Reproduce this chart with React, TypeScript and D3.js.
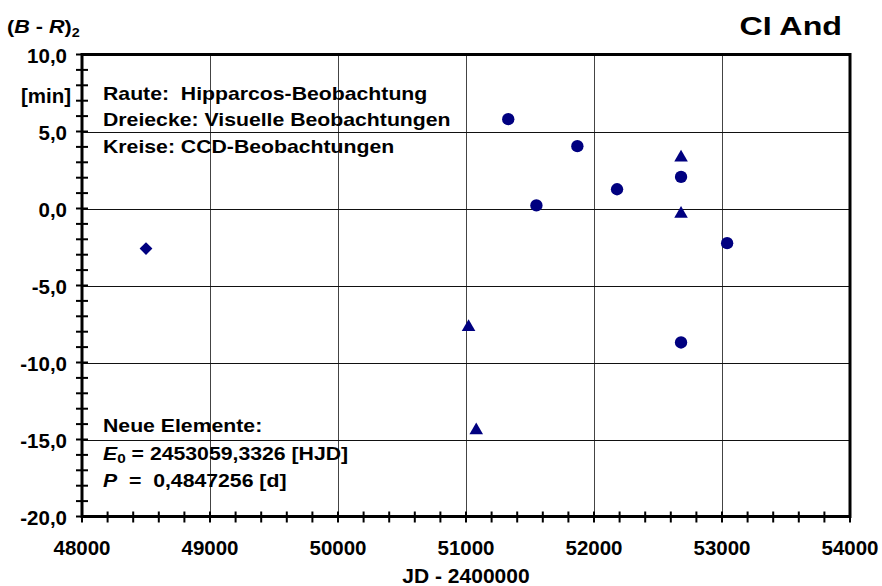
import React, { useRef, useEffect } from 'react';
import * as d3 from 'd3';

// Raute: Hipparcos
const hipJD = [48500];
const hipBR = [-2.6];
// Dreiecke: visuelle Beobachtungen
const visJD = [51020, 51080, 52680, 52680];
const visBR = [-7.7, -14.4, 3.3, -0.35];
// Kreise: CCD
const ccdJD = [51330, 51550, 51870, 52180, 52680, 52680, 53040];
const ccdBR = [5.8, 0.2, 4.05, 1.25, 2.05, -8.7, -2.25];

const xTicks = [48000, 49000, 50000, 51000, 52000, 53000, 54000];
const yTicks = [10, 5, 0, -5, -10, -15, -20];

const legendLines = [
  'Raute:\u00A0 Hipparcos-Beobachtung',
  'Dreiecke: Visuelle Beobachtungen',
  'Kreise: CCD-Beobachtungen',
];

const NAVY = '#000080';
const FONT = '"Liberation Sans", Arial, sans-serif';
const STRETCH = 1.18;

const App = () => {
  const svgRef = useRef<SVGSVGElement | null>(null);

  useEffect(() => {
    if (!svgRef.current) return;
    const W = 882, H = 586;
    const left = 82, right = 850, top = 54.5, bottom = 516.5;

    d3.select(svgRef.current).selectAll('*').remove();
    const svg = d3.select(svgRef.current).attr('width', W).attr('height', H);

    const x = d3.scaleLinear().domain([48000, 54000]).range([left, right]);
    const y = d3.scaleLinear().domain([-20, 10]).range([bottom, top]);

    // grid
    svg.append('g')
      .selectAll('line')
      .data(xTicks.slice(1, -1))
      .enter().append('line')
      .attr('x1', d => Math.round(x(d)) + 0.5).attr('x2', d => Math.round(x(d)) + 0.5)
      .attr('y1', top).attr('y2', bottom)
      .attr('stroke', '#444').attr('stroke-width', 1);
    svg.append('g')
      .selectAll('line')
      .data(yTicks.slice(1, -1))
      .enter().append('line')
      .attr('x1', left).attr('x2', right)
      .attr('y1', d => Math.round(y(d)) + 0.5).attr('y2', d => Math.round(y(d)) + 0.5)
      .attr('stroke', '#111').attr('stroke-width', 1);

    // minor ticks crossing the axis line
    const xMinor = d3.range(48000, 54001, 200);
    const yMinor = d3.range(-20, 10.01, 1);
    svg.append('g').selectAll('line').data(xMinor).enter().append('line')
      .attr('x1', d => x(d)).attr('x2', d => x(d))
      .attr('y1', bottom - 5).attr('y2', bottom + 6)
      .attr('stroke', '#000').attr('stroke-width', 2);
    svg.append('g').selectAll('line').data(yMinor).enter().append('line')
      .attr('x1', left - 6).attr('x2', left + 6)
      .attr('y1', d => y(d)).attr('y2', d => y(d))
      .attr('stroke', '#000').attr('stroke-width', 2);

    svg.append('rect')
      .attr('x', left).attr('y', top)
      .attr('width', right - left).attr('height', bottom - top)
      .attr('fill', 'none').attr('stroke', '#000').attr('stroke-width', 3);

    // tick labels
    const fmt = (v: number) => d3.format('.1f')(v).replace('.', ',').replace('−', '-');
    svg.append('g').selectAll('text').data(yTicks).enter().append('text')
      .attr('x', 67).attr('y', d => y(d) + 8)
      .attr('text-anchor', 'end')
      .style('font-family', FONT).style('font-weight', 'bold').style('font-size', '20.5px')
      .text(d => fmt(d));
    svg.append('g').selectAll('text').data(xTicks).enter().append('text')
      .attr('x', d => x(d)).attr('y', 555)
      .attr('text-anchor', 'middle')
      .style('font-family', FONT).style('font-weight', 'bold').style('font-size', '20.5px')
      .text(d => String(d));

    svg.append('text')
      .attr('x', 466).attr('y', 583).attr('text-anchor', 'middle')
      .style('font-family', FONT).style('font-weight', 'bold').style('font-size', '21px')
      .text('JD - 2400000');

    // y title
    const yt = svg.append('text')
      .attr('transform', `translate(7,33) scale(1.2,1)`)
      .style('font-family', FONT).style('font-weight', 'bold').style('font-size', '18px');
    yt.append('tspan').text('(');
    yt.append('tspan').style('font-style', 'italic').text('B');
    yt.append('tspan').text('\u00A0-\u00A0');
    yt.append('tspan').style('font-style', 'italic').text('R');
    yt.append('tspan').text(')');
    yt.append('tspan').attr('dy', 4).style('font-size', '12px').text('2');

    svg.append('text')
      .attr('x', 71).attr('y', 103).attr('text-anchor', 'end')
      .style('font-family', FONT).style('font-weight', 'bold').style('font-size', '20.5px')
      .text('[min]');

    svg.append('text')
      .attr('transform', `translate(842,35) scale(1.24,1)`)
      .attr('text-anchor', 'end')
      .style('font-family', FONT).style('font-weight', 'bold').style('font-size', '26px')
      .text('CI And');

    // legend text
    svg.append('g').selectAll('text').data(legendLines).enter().append('text')
      .attr('transform', (d, i) => `translate(103,${100 + i * 26.3}) scale(${STRETCH},1)`)
      .style('font-family', FONT).style('font-weight', 'bold').style('font-size', '18px')
      .text(d => d);

    // new elements
    const ne = svg.append('g')
      .style('font-family', FONT).style('font-weight', 'bold').style('font-size', '18px');
    ne.append('text').attr('transform', `translate(103,432) scale(${STRETCH},1)`).text('Neue Elemente:');
    const e0 = ne.append('text').attr('transform', `translate(103,460) scale(${STRETCH},1)`);
    e0.append('tspan').style('font-style', 'italic').text('E');
    e0.append('tspan').attr('dy', 3).style('font-size', '13px').text('0');
    e0.append('tspan').attr('dy', -3).text('\u00A0=\u00A02453059,3326 [HJD]');
    const p = ne.append('text').attr('transform', `translate(103,487) scale(${STRETCH},1)`);
    p.append('tspan').style('font-style', 'italic').text('P');
    p.append('tspan').text('\u00A0\u00A0=\u00A0\u00A00,4847256 [d]');

    // markers
    const diamond = d3.symbol().type(d3.symbolSquare).size(82)();
    const tri = d3.symbol().type(d3.symbolTriangle).size(80)();
    const circ = d3.symbol().type(d3.symbolCircle).size(120)();

    svg.append('g').selectAll('path').data(hipJD).enter().append('path')
      .attr('d', diamond)
      .attr('transform', (d, i) => `translate(${x(d)},${y(hipBR[i])}) rotate(45)`)
      .attr('fill', NAVY);
    svg.append('g').selectAll('path').data(visJD).enter().append('path')
      .attr('d', tri)
      .attr('transform', (d, i) => `translate(${x(d)},${y(visBR[i])})`)
      .attr('fill', NAVY);
    svg.append('g').selectAll('path').data(ccdJD).enter().append('path')
      .attr('d', circ)
      .attr('transform', (d, i) => `translate(${x(d)},${y(ccdBR[i])})`)
      .attr('fill', NAVY);
  }, []);

  return (
    <div style={{ position: 'absolute', left: 0, top: 0, background: '#fff' }}>
      <svg ref={svgRef} style={{ display: 'block' }} />
    </div>
  );
};

export default App;
